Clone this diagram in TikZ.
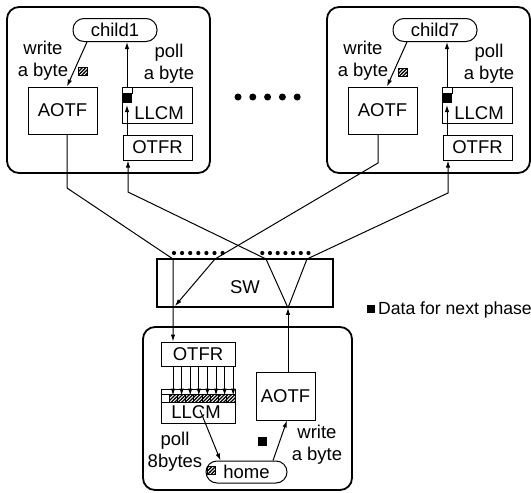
\documentclass[tikz,border=0pt]{standalone}
\usepackage{fontspec}
\setmainfont{Liberation Sans}
\usetikzlibrary{arrows.meta,patterns}

% heavier hatching than north east lines
\pgfdeclarepatternformonly{bytehatch}{\pgfqpoint{-1pt}{-1pt}}{\pgfqpoint{4.5pt}{4.5pt}}%
  {\pgfqpoint{3.5pt}{3.5pt}}%
  {\pgfsetlinewidth{1.1pt}\pgfpathmoveto{\pgfqpoint{-0.2pt}{-0.2pt}}%
   \pgfpathlineto{\pgfqpoint{3.7pt}{3.7pt}}\pgfusepath{stroke}}

\begin{document}
\begin{tikzpicture}[
  x=1pt,
  y=-1pt,
  every node/.style={font=\fontsize{18.5}{22}\selectfont},
  group/.style={draw, line width=1.8pt, rounded corners=12pt},
  unit/.style={draw, line width=1pt, inner sep=0pt},
  pill/.style={draw, line width=1pt, rounded corners=11pt, inner sep=0pt,
    minimum height=23pt, minimum width=84pt},
  link/.style={line width=1pt},
  arr/.style={link, -{Latex[length=7pt,width=4.5pt]}},
  cellbox/.style={draw, line width=0.9pt, pattern=bytehatch},
  lbl/.style={inner sep=0pt, align=center}
]
  \useasboundingbox (0,0) rectangle (531,493);

  % ---- the two children, top ------------------------------------------
  \draw[group] (7,7) rectangle (210,173);
  \draw[group] (327,7) rectangle (530,173);

  \node[pill] (child1) at (115,30) {child1};
  \node[unit, minimum width=69pt, minimum height=47pt] (aotfA) at (62.5,110.5) {AOTF};
  \node[unit, minimum width=70pt, minimum height=36pt] (llcmA) at (157,105) {};
  \node[lbl, anchor=base] (llcmAtxt) at (159,119.5) {LLCM};
  \node[unit, minimum width=69pt, minimum height=25pt] (otfrA) at (157.5,147.5) {OTFR};

  \node[pill] (child7) at (435,30) {child7};
  \node[unit, minimum width=69pt, minimum height=47pt] (aotfB) at (382.5,110.5) {AOTF};
  \node[unit, minimum width=70pt, minimum height=36pt] (llcmB) at (477,105) {};
  \node[lbl, anchor=base] (llcmBtxt) at (479,119.5) {LLCM};
  \node[unit, minimum width=69pt, minimum height=25pt] (otfrB) at (477.5,147.5) {OTFR};

  % the one-byte cell of each LLCM
  \draw[link] (122,87) rectangle (132,93);
  \fill (122,93) rectangle (132,103);
  \draw[link] (442,87) rectangle (452,93);
  \fill (442,93) rectangle (452,103);

  \node[lbl] (writeA) at (43,61) {write\\a byte};
  \node[lbl] (pollA) at (169,64) {poll\\a byte};
  \node[lbl] (writeB) at (363,61) {write\\a byte};
  \node[lbl] (pollB) at (489,64) {poll\\a byte};
  \draw[cellbox] (78,67) rectangle (87,75);
  \draw[cellbox] (398,68) rectangle (407,76);

  \draw[arr] ([xshift=-28pt]child1.south) -- ([xshift=4.5pt]aotfA.north);
  \draw[arr] ([xshift=-30pt]llcmA.north) -- ([xshift=12pt]child1.south);
  \draw[arr] ([xshift=-30.5pt]otfrA.north) -- ([xshift=-30pt]llcmA.center);
  \draw[arr] ([xshift=-28pt]child7.south) -- ([xshift=4.5pt]aotfB.north);
  \draw[arr] ([xshift=-30pt]llcmB.north) -- ([xshift=12pt]child7.south);
  \draw[arr] ([xshift=-30.5pt]otfrB.north) -- ([xshift=-30pt]llcmB.center);

  % ---- the children in between ----------------------------------------
  \foreach \i in {0,...,4}
    \fill ({238+14.8*\i},97) circle (3.5pt);

  % ---- switch -----------------------------------------------------------
  \node[unit, line width=1.8pt, minimum width=176pt, minimum height=48pt,
    text height=20pt, text depth=0pt] (sw) at (245,283) {SW};
  \foreach \i in {0,...,6}
    \fill ({174+8.1*\i},253) circle (2.1pt);
  \foreach \i in {0,...,6}
    \fill ({262.3+7.7*\i},253) circle (2.1pt);

  % ---- home, bottom ------------------------------------------------------
  \draw[group] (143,327) rectangle (352,490);

  \node[unit, minimum width=74pt, minimum height=24pt] (otfrH) at (198,354) {OTFR};
  \node[unit, minimum width=74pt, minimum height=34pt] (llcmH) at (198,406) {};
  \node[lbl, anchor=base] (llcmHtxt) at (196,418.5) {LLCM};
  \node[unit, minimum width=59pt, minimum height=48pt] (aotfH) at (285.5,396) {AOTF};
  \node[pill, minimum width=81pt, minimum height=22pt] (home) at (246.5,472) {home};

  % eight one-byte cells, one from each child
  \draw[link] (llcmH.north west |- 0,394) -- (llcmH.north east |- 0,394);
  \draw[link] (llcmH.north west |- 0,402) -- (llcmH.north east |- 0,402);
  \foreach \i in {0,...,7}
    \draw[cellbox] ({169+8.25*\i},394) rectangle ++(8.25,8);
  \foreach \i in {0,...,7}
    \draw[arr] ([xshift={-25+8.6*\i}]otfrH.south) -- ([xshift={-25+8.6*\i}, yshift=-7pt]llcmH.north);

  \draw[cellbox] (207,466) rectangle (215,474);
  \fill (258,437) rectangle (267,446);

  \node[lbl] (pollH) at (175,452) {poll\\8bytes};
  \node[lbl] (writeH) at (317,445) {write\\a byte};

  \draw[arr] ([xshift=2pt, yshift=-4pt]llcmH.center) -- ([xshift=-26pt]home.north);
  \draw[arr] ([xshift=26.5pt]home.north) -- ([xshift=1.5pt]aotfH.south);

  % ---- the links through the switch ------------------------------------
  \coordinate (bendA) at (67,188);
  \coordinate (swInL) at (173,259);
  \coordinate (bendB) at (378,163);
  \coordinate (swInR) at (215,259);
  \coordinate (merge) at (175,306);
  \coordinate (vL) at (266,259);
  \coordinate (vR) at (307,259);
  \coordinate (bendC) at (128,192);
  \coordinate (bendD) at (448,193);

  \draw[arr] ([xshift=4.5pt]aotfA.south) -- (bendA) -- (swInL) -- ([xshift=-25pt]otfrH.north);
  \draw[arr] ([xshift=-4.5pt]aotfB.south) -- (bendB) -- (swInR) -- (merge);
  \draw[arr] ([xshift=2.5pt]aotfH.north) -- ([xshift=43pt]sw.south);
  \draw[arr] ([xshift=43pt]sw.south) -- (vL) -- (bendC) -- ([xshift=-29.5pt]otfrA.south);
  \draw[arr] ([xshift=43pt]sw.south) -- (vR) -- (bendD) -- ([xshift=-29.5pt]otfrB.south);

  % ---- legend ----------------------------------------------------------
  \fill (367,305) rectangle (375,313);
  \node[anchor=west, inner sep=0pt, font=\fontsize{17.6}{20}\selectfont] (legend) at (378,309.5) {Data for next phase};
\end{tikzpicture}
\end{document}
